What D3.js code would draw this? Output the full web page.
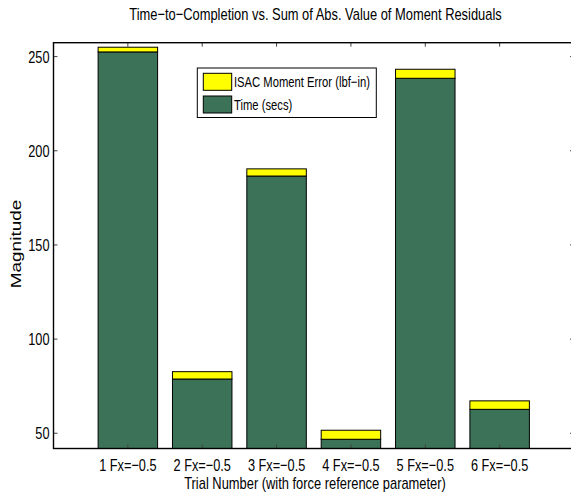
<!DOCTYPE html>
<html>
<head>
<meta charset="utf-8">
<script src="https://cdn.jsdelivr.net/npm/d3@7"></script>
<style>
    body { margin: 0; overflow: hidden; background: #fff; }
    text { font-family: "Liberation Sans", Arial, sans-serif; fill: #000; }
</style>
</head>
<body>
<div id="chart"></div>
<script>
// trial labels and stacked values
let trials = ["1 Fx=\u22120.5", "2 Fx=\u22120.5", "3 Fx=\u22120.5", "4 Fx=\u22120.5", "5 Fx=\u22120.5", "6 Fx=\u22120.5"];
let timeSecs = [252.5, 78.8, 186.6, 46.8, 238.5, 62.7];
let momentErr = [2.5, 3.9, 3.8, 4.8, 4.8, 4.5];
let yTicks = [50, 100, 150, 200, 250];
let seriesNames = ["ISAC Moment Error (lbf\u2212in)", "Time (secs)"];
let seriesColors = ["#ffff00", "#3c7258"];

let width = 571, height = 495;
let plot = {left: 53.5, right: 574, top: 42.7, bottom: 448.5};
// the figure's lettering is horizontally squeezed
let squeeze = 0.75;

let svg = d3.select("#chart").append("svg")
    .attr("width", width)
    .attr("height", height);

// places a condensed text at (px, py)
function label(parent, px, py, size, anchor, str) {
    return parent.append("text")
        .attr("transform", "translate(" + px + "," + py + ") scale(" + squeeze + ",1)")
        .attr("text-anchor", anchor)
        .attr("font-size", size)
        .text(str);
}

let x = d3.scaleLinear()
    .domain([0, 7])
    .range([plot.left, plot.right]);

let y = d3.scaleLinear()
    .domain([41.9, 257.4])
    .range([plot.bottom, plot.top]);

svg.append("clipPath")
    .attr("id", "plotclip")
    .append("rect")
    .attr("x", plot.left)
    .attr("y", plot.top)
    .attr("width", plot.right - plot.left)
    .attr("height", plot.bottom - plot.top);

// stacked bars: time at the bottom, moment error on top
let data = trials.map(function (t, i) {
    return {trial: i + 1, time: timeSecs[i], err: momentErr[i]};
});
let barW = x(0.8) - x(0);

let bars = svg.append("g").attr("clip-path", "url(#plotclip)");

bars.selectAll(".time")
    .data(data)
    .enter().append("rect")
    .attr("class", "time")
    .attr("x", function (d) { return x(d.trial) - barW / 2; })
    .attr("y", function (d) { return y(d.time); })
    .attr("width", barW)
    .attr("height", function (d) { return y(0) - y(d.time); })
    .attr("fill", seriesColors[1])
    .attr("stroke", "#000")
    .attr("stroke-width", 1);

bars.selectAll(".err")
    .data(data)
    .enter().append("rect")
    .attr("class", "err")
    .attr("x", function (d) { return x(d.trial) - barW / 2; })
    .attr("y", function (d) { return y(d.time + d.err); })
    .attr("width", barW)
    .attr("height", function (d) { return y(d.time) - y(d.time + d.err); })
    .attr("fill", seriesColors[0])
    .attr("stroke", "#000")
    .attr("stroke-width", 1);

// ticks on all four sides, pointing inward
let tickLen = 4;
let ticks = svg.append("g").attr("stroke", "#444").attr("stroke-width", 1);
yTicks.forEach(function (v) {
    ticks.append("line")
        .attr("x1", plot.left).attr("x2", plot.left + tickLen)
        .attr("y1", y(v)).attr("y2", y(v));
    ticks.append("line")
        .attr("x1", plot.right - tickLen).attr("x2", plot.right)
        .attr("y1", y(v)).attr("y2", y(v));
});
d3.range(1, 7).forEach(function (k) {
    ticks.append("line")
        .attr("x1", x(k)).attr("x2", x(k))
        .attr("y1", plot.top).attr("y2", plot.top + tickLen);
    ticks.append("line")
        .attr("x1", x(k)).attr("x2", x(k))
        .attr("y1", plot.bottom - tickLen).attr("y2", plot.bottom);
});

// axes box
svg.append("rect")
    .attr("x", plot.left)
    .attr("y", plot.top)
    .attr("width", plot.right - plot.left)
    .attr("height", plot.bottom - plot.top)
    .attr("fill", "none")
    .attr("stroke", "#000")
    .attr("stroke-width", 1.4);

// tick labels
let yLab = svg.append("g");
yTicks.forEach(function (v) {
    label(yLab, 49.5, y(v) + 6, 17, "end", v);
});

let xLab = svg.append("g");
trials.forEach(function (t, i) {
    label(xLab, x(i + 1), 471, 17, "middle", t);
});

// titles
label(svg, 315.5, 19.5, 17.2, "middle",
    "Time\u2212to\u2212Completion vs. Sum of Abs. Value of Moment Residuals");
label(svg, 315, 488.5, 17.2, "middle",
    "Trial Number (with force reference parameter)");

svg.append("text")
    .attr("transform", "translate(20.5,244) scale(0.8,1) rotate(-90)")
    .attr("text-anchor", "middle")
    .attr("font-size", 19)
    .text("Magnitude");

// legend
let legend = svg.append("g");
legend.append("rect")
    .attr("x", 197.3).attr("y", 68)
    .attr("width", 179).attr("height", 49.5)
    .attr("fill", "#fff")
    .attr("stroke", "#000")
    .attr("stroke-width", 1);

let swatchY = [73.3, 96];
seriesNames.forEach(function (name, i) {
    legend.append("rect")
        .attr("x", 203.3).attr("y", swatchY[i])
        .attr("width", 28.4).attr("height", 17)
        .attr("fill", seriesColors[i])
        .attr("stroke", "#000")
        .attr("stroke-width", 1);
    label(legend, 234, swatchY[i] + 14, 15, "start", name);
});
</script>
</body>
</html>
